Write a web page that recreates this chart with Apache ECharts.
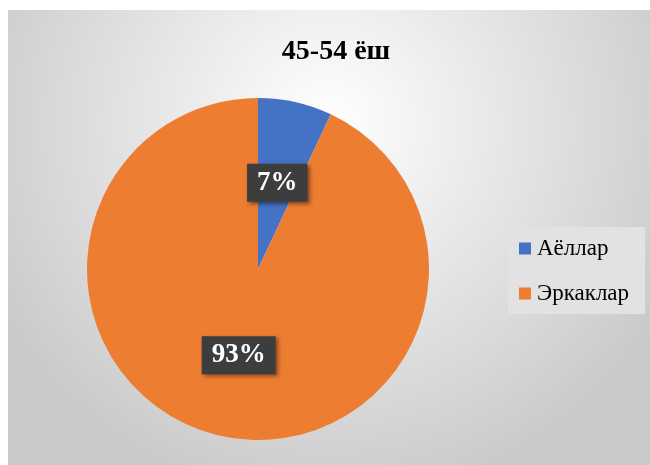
<!DOCTYPE html>
<html>
<head>
<meta charset="utf-8">
<script src="https://cdn.jsdelivr.net/npm/echarts@6/dist/echarts.min.js"></script>
<style>
  html, body { margin: 0; padding: 0; background: #fff; }
  #main { width: 650px; height: 465px; }
</style>
</head>
<body>
<div id="main"></div>
<script>
// 数据
const titleText = "45-54 ёш";
const categories = ["Аёллар", "Эркаклар"];
const values = [7, 93];
const colors = ["#4472C4", "#ED7D31"];

const chart = echarts.init(document.getElementById("main"));

const pieData = categories.map((name, i) => ({
    name: name,
    value: values[i],
    itemStyle: { color: colors[i] },
}));

const option = {
    animation: false,
    backgroundColor: "#fff",
    graphic: [
        {
            // 背景渐变区域
            type: "rect",
            left: 8,
            top: 10,
            shape: { width: 642, height: 455 },
            style: {
                fill: {
                    type: "radial",
                    x: 0.5,
                    y: 0.25,
                    r: 0.85,
                    colorStops: [
                        { offset: 0, color: "#ffffff" },
                        { offset: 1, color: "#c9c9c9" },
                    ],
                },
            },
            z: -10,
        },
    ],
    title: {
        text: titleText,
        left: 331,
        textAlign: "center",
        top: 33,
        textStyle: {
            fontFamily: "Liberation Serif",
            fontSize: 28,
            fontWeight: "bold",
            color: "#000",
        },
    },
    legend: {
        orient: "vertical",
        left: 508,
        top: 227,
        padding: [10, 16, 9, 11],
        backgroundColor: "#e2e2e2",
        itemWidth: 12,
        itemHeight: 12,
        itemGap: 22,
        icon: "rect",
        textStyle: {
            fontFamily: "Liberation Serif",
            fontSize: 23,
            color: "#000",
            padding: [0, 0, 0, 1],
        },
        data: categories,
    },
    series: [
        {
            type: "pie",
            center: [258, 269],
            radius: 171,
            startAngle: 90,
            clockwise: true,
            data: pieData,
            itemStyle: { borderWidth: 0 },
            label: {
                show: true,
                position: "inside",
                formatter: "{d}%",
                fontFamily: "Liberation Serif",
                fontSize: 27,
                lineHeight: 28,
                fontWeight: "bold",
                color: "#fff",
                backgroundColor: "#3d3d3d",
                padding: [6, 10, 4, 10],
                shadowColor: "rgba(0,0,0,0.45)",
                shadowBlur: 4,
                shadowOffsetX: 2,
                shadowOffsetY: 2,
            },
            labelLine: { show: false },
            emphasis: { disabled: true },
        },
    ],
};

chart.setOption(option);
</script>
</body>
</html>
